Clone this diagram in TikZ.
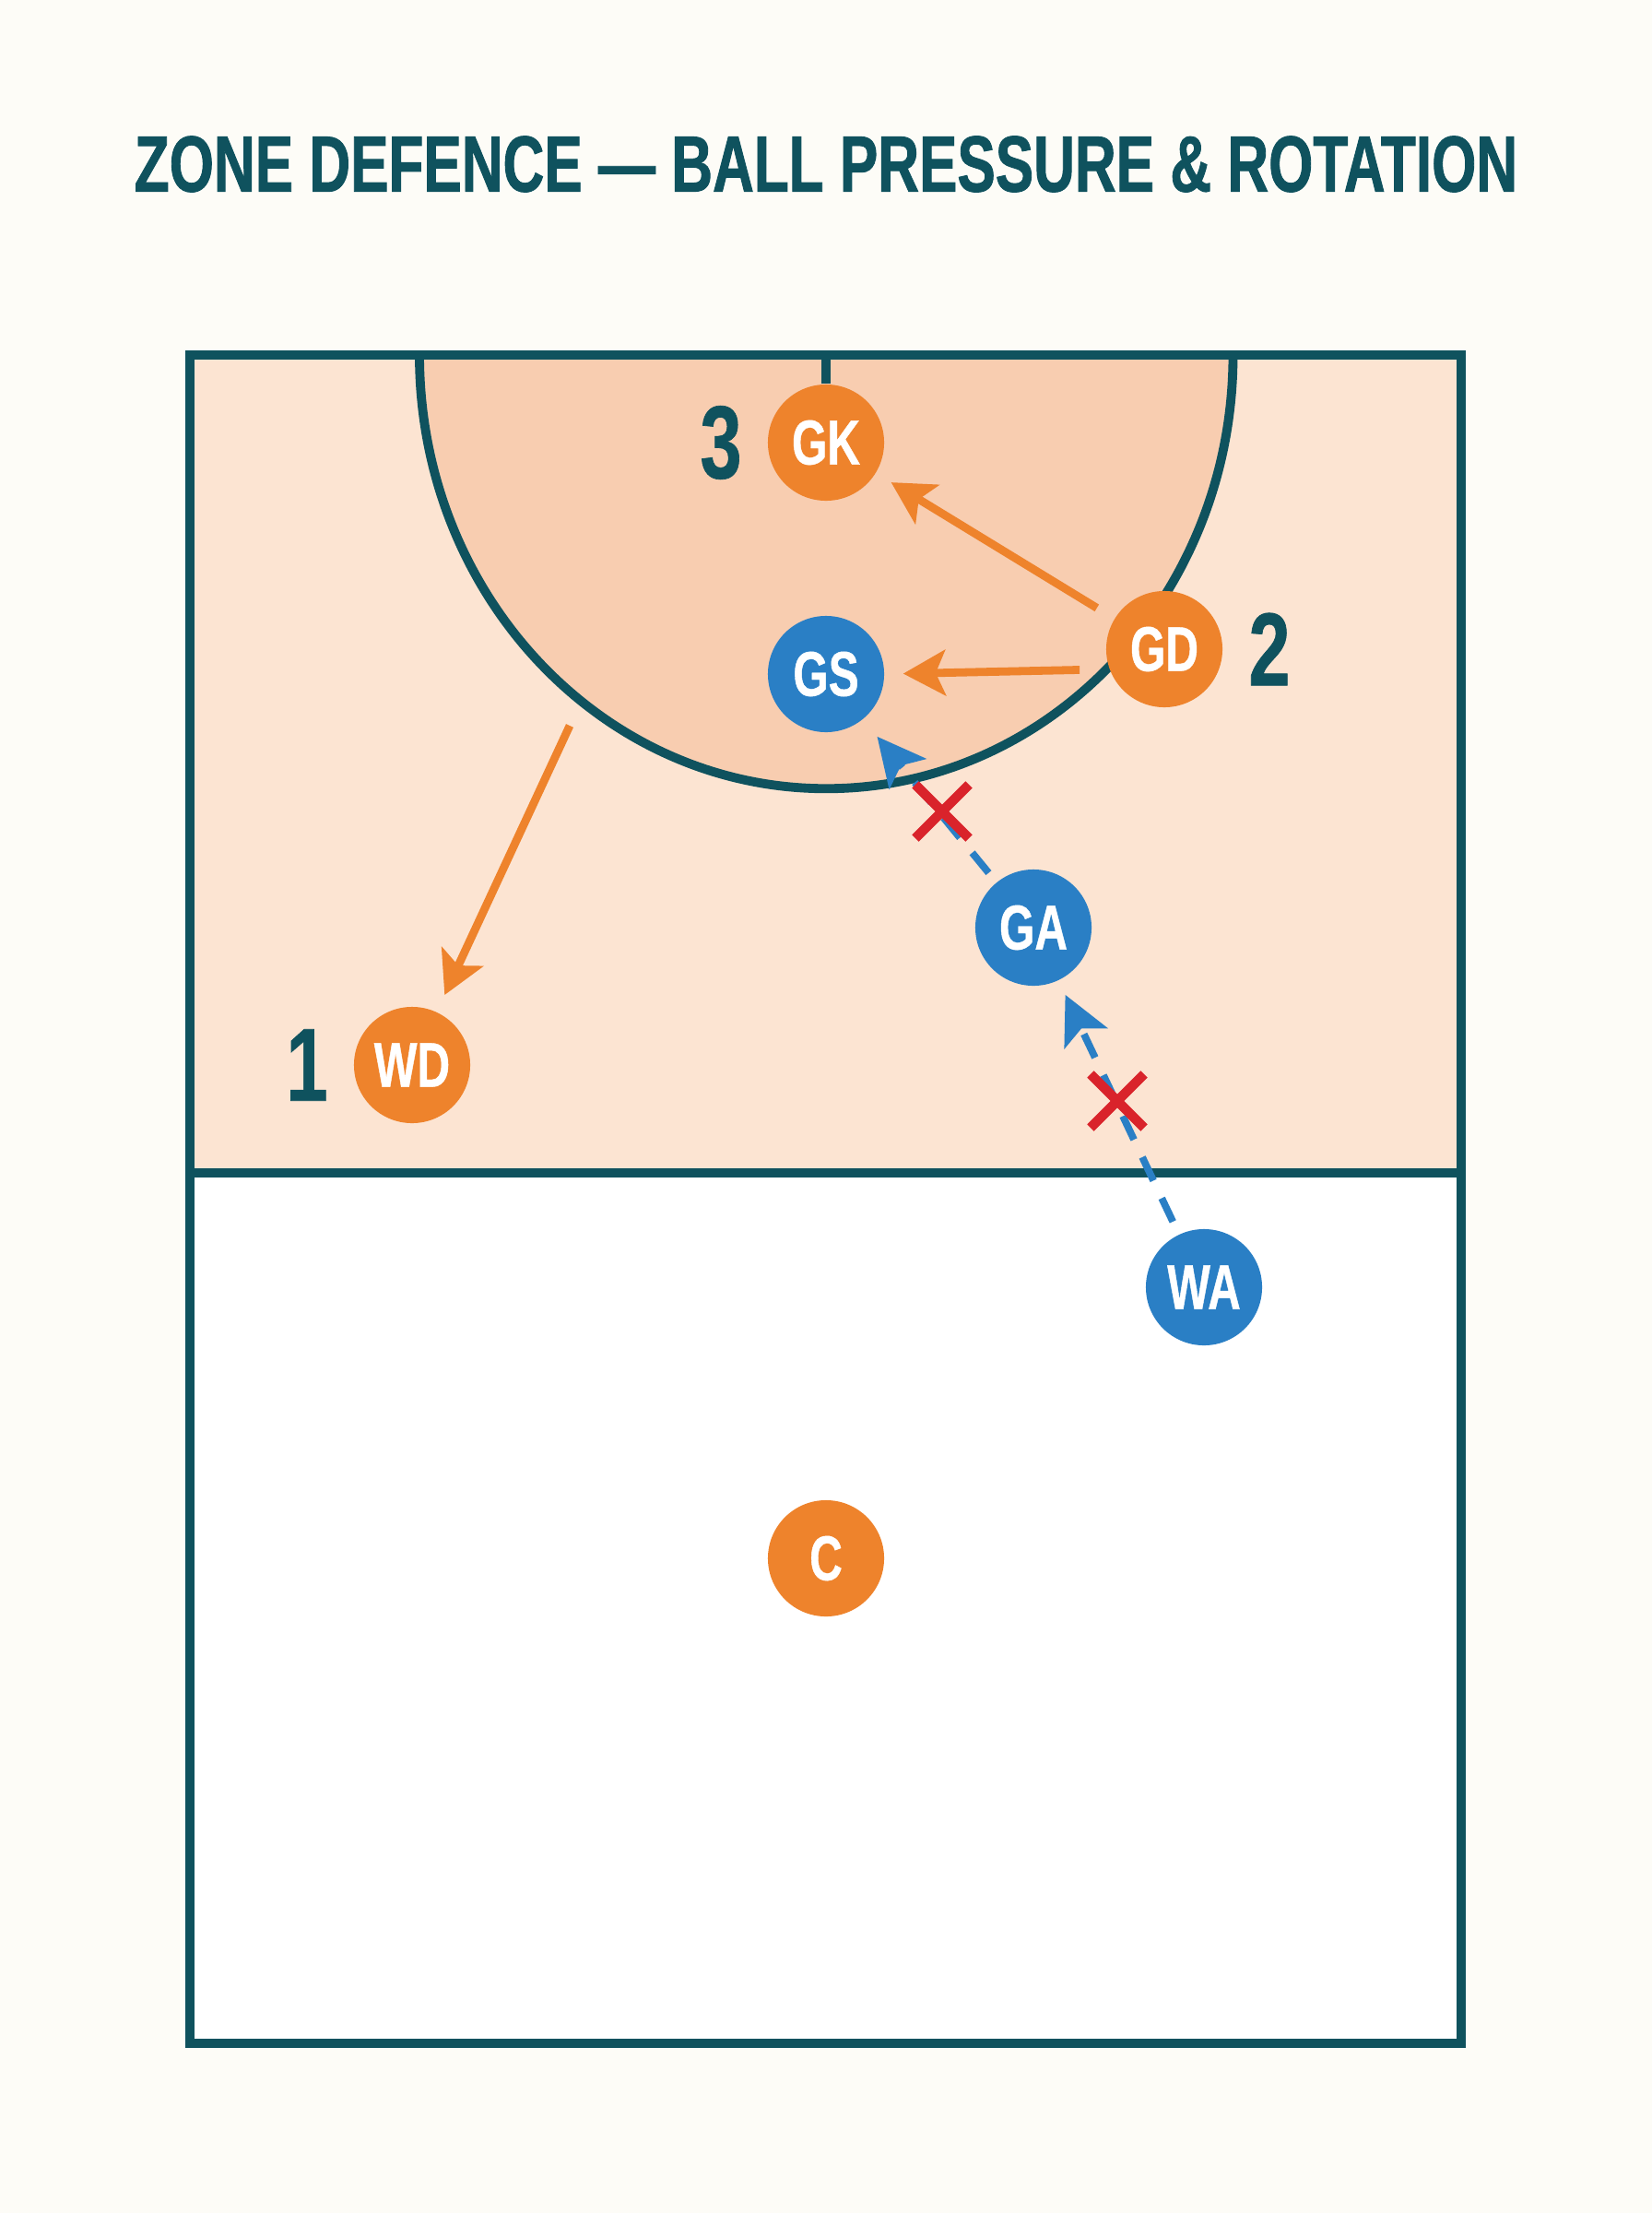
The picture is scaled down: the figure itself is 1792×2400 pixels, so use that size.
\documentclass[tikz,border=0pt]{standalone}
\usepackage{fontspec}
\newfontfamily\condfont[FakeStretch=0.72, FakeBold=0.6]{Liberation Sans Bold}
\newfontfamily\titlefont[FakeStretch=0.72, FakeBold=1]{Liberation Sans Bold}
\usetikzlibrary{arrows.meta, positioning, shapes.misc}
\usepackage{xcolor}

\definecolor{courtteal}{HTML}{0F525E}
\definecolor{netorange}{HTML}{EE832C}
\definecolor{netblue}{HTML}{2A7FC5}
\definecolor{netred}{HTML}{D9232B}
\definecolor{thirdfill}{HTML}{FCE4D2}
\definecolor{circlefill}{HTML}{F8CDB0}
\definecolor{paper}{HTML}{FDFCF7}

\begin{document}
\begin{tikzpicture}[
x=0.01cm, y=-0.01cm,
player/.style={circle,
minimum size=1.26cm,
inner sep=0pt,
text=white,
font=\condfont\fontsize{19.5}{19.5}\selectfont},
defender/.style={player, fill=netorange},
attacker/.style={player, fill=netblue},
posnum/.style={inner sep=0pt, text=courtteal, font=\condfont\fontsize{32}{32}\selectfont},
courtline/.style={draw=courtteal, line width=2.8pt},
run/.style={-{Stealth[length=13pt, width=14pt, inset=3pt]}, netorange, line width=2.5pt},
pass/.style={-{Stealth[length=15pt, width=15pt, inset=3.5pt, line width=0pt]}, netblue, line width=2.2pt, dash pattern=on 8pt off 6pt},
blocked/.style={cross out, draw=netred, line width=3pt, minimum size=0.58cm, inner sep=0pt, outer sep=0pt}
]

\fill[paper] (0,0) rectangle (1792,2400);
\useasboundingbox (0,0) rectangle (1792,2400);

% court
\fill[thirdfill] (206,385) rectangle (1585,1272);
\fill[white] (206,1272) rectangle (1585,2216);
\fill[circlefill] (455,385) arc[start angle=180, end angle=360, x radius=4.41cm, y radius=4.70cm] -- cycle;
\draw[courtline] (455,385) arc[start angle=180, end angle=360, x radius=4.41cm, y radius=4.70cm];
\draw[courtline] (206,1272) -- (1585,1272);
\draw[courtline] (206,385) rectangle (1585,2216);

\node[text=courtteal, font=\titlefont\fontsize{24.5}{24.5}\selectfont] (title) at (896,178) {ZONE DEFENCE — BALL PRESSURE \& ROTATION};

% players
\node[defender] (gk) at (896,480) {GK};
\node[defender] (gd) at (1263,704) {GD};
\node[attacker] (gs) at (896,731) {GS};
\node[attacker] (ga) at (1121,1006) {GA};
\node[defender] (wd) at (447,1155) {WD};
\node[attacker] (wa) at (1306,1396) {WA};
\node[defender] (centre) at (896,1690) {C};

\node[posnum, left=0.27cm of gk] (gknum) {3};
\node[posnum, right=0.27cm of gd] (gdnum) {2};
\node[posnum, left=0.27cm of wd] (wdnum) {1};

\draw[courtline] (896,385) -- (gk.north);

% rotation
\coordinate (wdfrom) at (618,787);
\draw[run, shorten <=0.22cm, shorten >=0.19cm] (gd) -- (gk);
\draw[run, shorten <=0.32cm, shorten >=0.2cm] (gd.200) -- (gs.east);
\draw[run, shorten >=0.2cm] (wdfrom) -- (wd);

% passes
\draw[pass, shorten <=0.15cm, shorten >=0.17cm] (wa) -- (ga);
\draw[pass, shorten <=0.13cm, shorten >=0.24cm] (ga) -- (gs);

\node[blocked] (block1) at (1022,880) {};
\node[blocked] (block2) at (1212,1194) {};

\end{tikzpicture}
\end{document}
